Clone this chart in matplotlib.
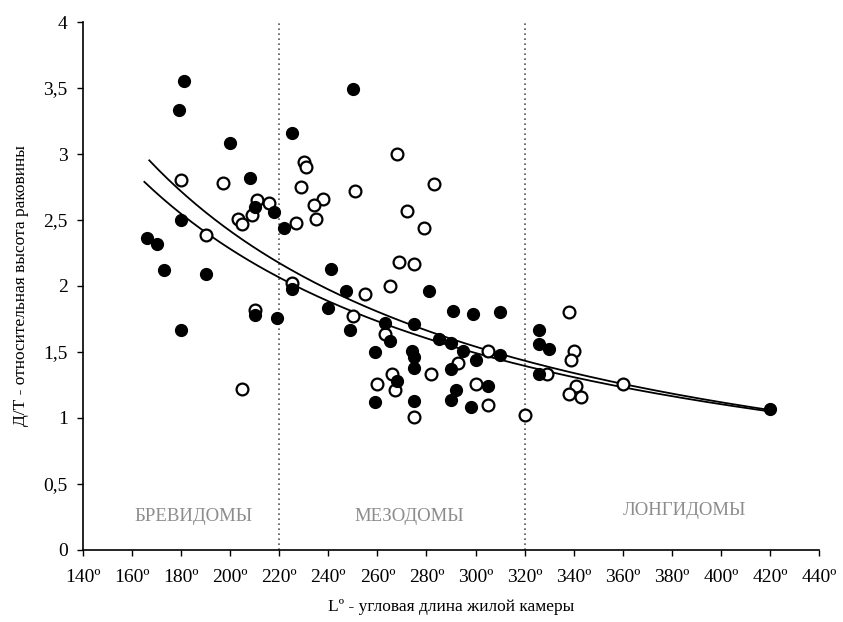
import numpy as np
import matplotlib.pyplot as plt
from matplotlib.ticker import FuncFormatter

plt.rcParams['font.family'] = ['Liberation Serif', 'DejaVu Serif']

# закрашенные точки
filled_L = [181, 179, 200, 208, 225, 250, 180, 166, 170, 173, 190, 180, 210, 219,
            210, 218, 222, 225, 241, 247, 240, 249, 263, 265, 259, 268, 259,
            281, 291, 299, 310, 275, 285, 290, 295, 300, 310, 274, 275, 275,
            290, 292, 290, 305, 298, 275, 326, 326, 330, 326, 420]
filled_DT = [3.55, 3.33, 3.08, 2.82, 3.16, 3.49, 2.50, 2.36, 2.32, 2.12, 2.09, 1.67, 1.78, 1.76,
             2.60, 2.56, 2.44, 1.98, 2.13, 1.96, 1.83, 1.67, 1.72, 1.58, 1.50, 1.28, 1.12,
             1.96, 1.81, 1.79, 1.80, 1.71, 1.60, 1.57, 1.51, 1.44, 1.48, 1.51, 1.46, 1.38,
             1.37, 1.21, 1.14, 1.24, 1.08, 1.13, 1.67, 1.56, 1.52, 1.33, 1.07]

# открытые точки
open_L = [180, 197, 211, 216, 190, 203, 205, 209, 227, 210, 205, 225,
          230, 231, 229, 238, 234, 235, 251, 268, 283, 272, 279,
          255, 269, 275, 265, 250, 263, 266, 260, 267, 305, 282, 293, 300,
          305, 275, 320, 329, 338, 340, 339, 341, 338, 343, 360]
open_DT = [2.80, 2.78, 2.65, 2.63, 2.39, 2.51, 2.47, 2.54, 2.48, 1.82, 1.22, 2.02,
           2.94, 2.90, 2.75, 2.66, 2.61, 2.51, 2.72, 3.00, 2.77, 2.57, 2.44,
           1.94, 2.18, 2.17, 2.00, 1.77, 1.64, 1.33, 1.26, 1.21, 1.51, 1.33, 1.42, 1.26,
           1.10, 1.01, 1.02, 1.33, 1.80, 1.51, 1.44, 1.24, 1.18, 1.16, 1.26]

# степенные линии тренда y = a * L^b
trend_a = [865.6, 582.0]
trend_b = [-1.110, -1.046]
trend_start = [167, 165]
trend_end = 420

borders = [220, 320]
zones = ['БРЕВИДОМЫ', 'МЕЗОДОМЫ', 'ЛОНГИДОМЫ']
zone_x = [185, 273, 385]
zone_y = [0.25, 0.25, 0.30]

fig = plt.figure(figsize=(8.43, 6.22), dpi=100)
ax = fig.add_axes([0.0985, 0.1158, 0.873, 0.8488])

for a, b, s in zip(trend_a, trend_b, trend_start):
    xs = np.linspace(s, trend_end, 200)
    ax.plot(xs, a * xs ** b, color='black', lw=1.3, zorder=2)

ax.plot(open_L, open_DT, 'o', ms=8.5, mfc='white', mec='black', mew=1.6, zorder=3)
ax.plot(filled_L, filled_DT, 'o', ms=8.5, mfc='black', mec='black', zorder=4)

for bx in borders:
    ax.plot([bx, bx], [0, 4], color='#555555', lw=1.2, ls=(0, (1, 2)), zorder=1)

for name, zx, zy in zip(zones, zone_x, zone_y):
    ax.text(zx, zy, name, color='#8c8c8c', fontsize=13.5, ha='center', va='center')

ax.set_xlim(140, 440)
ax.set_ylim(0, 4)
ax.set_xticks(range(140, 441, 20))
ax.set_yticks(np.arange(0, 4.01, 0.5))
ax.xaxis.set_major_formatter(FuncFormatter(lambda v, p: '%d\u00ba' % v))
ax.yaxis.set_major_formatter(FuncFormatter(lambda v, p: ('%g' % v).replace('.', ',')))
ax.tick_params(labelsize=14, direction='out', length=4, width=1)
ax.tick_params(axis='x', pad=10)
ax.tick_params(axis='y', pad=7)

for side in ['top', 'right']:
    ax.spines[side].set_visible(False)
ax.spines['left'].set_linewidth(1.2)
ax.spines['bottom'].set_linewidth(1.2)

ax.set_xlabel('L\u00ba - угловая длина жилой камеры', fontsize=12.5, labelpad=9)
ax.set_ylabel('Д/Т - относительная высота раковины', fontsize=12.5, labelpad=10)

fig.savefig('out.png', dpi=100)
